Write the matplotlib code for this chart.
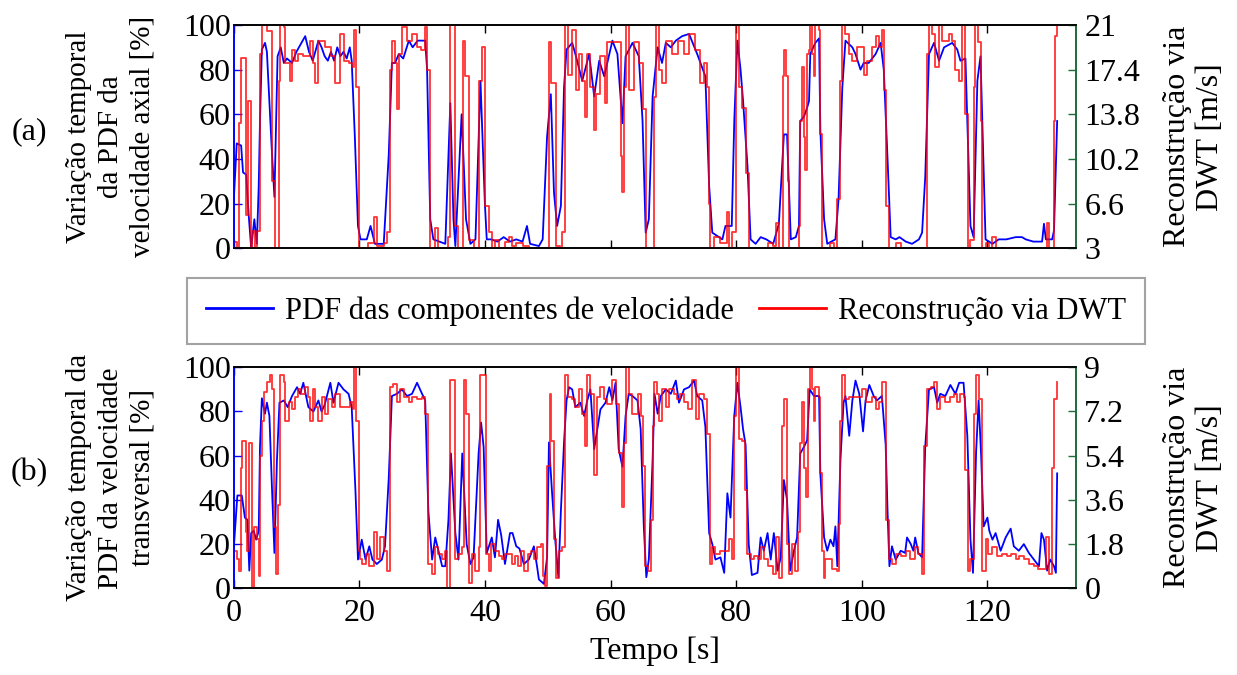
import matplotlib
matplotlib.use('Agg')
import matplotlib.pyplot as plt
from matplotlib.lines import Line2D
import numpy as np

plt.rcParams['font.family'] = ['Liberation Serif', 'DejaVu Serif']
plt.rcParams['font.size'] = 23

# (tempo [s], PDF [%]) - velocidade axial
top_pdf = [(0.0,20),(0.5,47),(1.2,46),(1.5,34),(2.0,33),(2.4,15),(2.8,0),(3.3,13),(3.7,2),(4.0,28),(4.2,57),(4.5,89),(5.0,92),(5.3,88),
           (6.1,43),(6.5,23),(7.0,86),(7.5,90),(8.0,83),(8.5,85),(9.3,83),(10.0,88),(10.8,92),(11.4,95),(12.0,88),(12.6,84),(13.0,88),
           (13.5,93),(14.0,90),(14.5,86),(15.0,84),(15.5,88),(16.0,84),(16.5,90),(17.0,86),(17.5,88),(18.0,85),(18.5,90),(18.8,84),
           (19.3,50),(19.8,10),(20.2,4),(21.2,4),(21.8,10),(22.5,2),(23.9,2),(24.7,42),(25.2,83),(25.7,83),(26.3,87),(27.0,85),(27.9,93),
           (28.5,90),(29.3,93),(30.5,93),(30.8,80),(31.3,13),(31.8,4),(33.7,2),(34.5,65),(35.0,13),(35.3,1),(36.3,60),(37.0,13),(37.7,2),
           (38.5,4),(39.3,75),(40.0,20),(40.3,4),(41.0,4),(42.0,3),(43.0,5),(44.0,3),(45.0,4),(46.0,3),(46.7,10),(47.2,2),(48.6,1),
           (49.2,4),(49.9,50),(50.5,69),(51.0,25),(51.5,10),(52.1,19),(52.6,72),(53.0,89),(53.9,92),(54.5,86),(55.5,75),(56.6,87),
           (57.4,68),(58.2,84),(59.0,77),(60.3,93),(61.1,87),(61.9,56),(62.4,86),(63.5,92),(64.5,86),(65.1,57),(65.6,7),(66.1,13),
           (66.7,68),(67.5,90),(68.2,83),(68.8,92),(69.6,90),(70.4,93),(71.4,95),(72.5,96),(73.8,87),(75.1,77),(75.7,28),(76.2,7),
           (77.8,4),(78.3,10),(79.3,10),(79.7,57),(80.2,93),(80.7,80),(81.1,66),(81.8,37),(82.3,4),(83.1,2),(83.9,5),(84.8,4),(85.9,2),
           (86.8,11),(87.6,51),(88.1,51),(88.7,4),(89.5,5),(90.0,10),(90.2,57),(90.8,59),(91.3,63),(91.6,66),(91.8,87),(92.6,92),
           (93.2,94),(93.4,53),(94.0,13),(94.5,2),(95.8,4),(96.3,22),(96.9,72),(97.4,93),(98.5,90),(99.0,87),(99.8,80),(100.3,83),
           (101.1,83),(102.2,87),(103.0,92),(103.5,80),(104.1,40),(104.6,5),(105.4,4),(106.0,5),(107.0,3),(108.0,2),(109.1,4),(109.6,7),
           (110.1,32),(110.7,87),(111.5,92),(112.3,84),(113.1,90),(114.4,92),(115.2,89),(115.7,84),(116.5,85),(116.8,57),(117.3,10),
           (117.8,5),(118.4,75),(118.9,86),(119.7,4),(120.8,2),(121.8,4),(123.0,4),(124.5,5),(125.5,5),(126.1,4),(127.3,3),(128.7,3),
           (129.0,11),(129.3,4),(130.3,4),(130.6,8),(131.1,57)]

# (tempo [s], velocidade [m/s]) - reconstrucao DWT, axial
top_dwt = [(0.0,3.5),(0.6,2.5),(0.9,13.1),(1.2,18.3),(1.6,18.3),(1.9,5.7),(2.3,14.9),(2.6,14.9),(2.8,2.5),(3.0,4.4),(3.4,2.5),(3.8,4.4),
           (4.2,18.7),(4.6,21.9),(5.0,21.0),(5.3,20.5),(5.8,20.5),(6.1,8.4),(6.6,2.5),(6.9,2.5),(7.2,16.5),(7.4,21.9),(8.0,20.8),(8.2,17.9),
           (9.0,16.5),(9.3,19.0),(9.8,18.1),(10.3,18.7),(11.1,18.5),(12.2,19.7),(12.7,17.9),(13.0,16.3),(13.5,19.7),(14.5,19.2),(15.5,18.5),
           (16.2,16.3),(17.0,20.3),(17.5,18.1),(18.3,17.9),(18.8,17.6),(19.1,20.6),(19.5,16.0),(19.9,3.0),(20.5,3.0),(21.4,3.4),(22.3,5.5),
           (22.8,3.2),(24.0,3.4),(24.4,4.3),(24.9,17.4),(25.2,19.7),(25.7,17.9),(26.0,14.2),(26.3,18.7),(26.8,20.8),(27.6,19.7),(28.4,20.3),
           (29.2,19.2),(29.9,19.0),(30.5,20.8),(30.8,17.4),(31.3,3.0),(31.8,2.5),(32.1,4.6),(32.6,2.5),(33.7,3.0),(34.2,3.9),(34.5,21.9),
           (35.0,21.9),(35.3,4.8),(35.8,2.5),(36.5,19.7),(36.9,16.9),(37.4,3.7),(38.2,2.5),(39.0,16.5),(39.5,19.2),(40.0,6.4),(40.6,4.3),
           (41.1,2.5),(41.6,3.7),(42.2,2.5),(43.2,3.5),(43.8,3.9),(44.3,3.2),(45.0,3.4),(46.0,3.2),(47.0,2.5),(49.5,2.5),(50.2,19.6),
           (50.6,16.3),(51.3,3.2),(51.9,2.5),(52.3,4.3),(52.7,21.9),(53.2,17.0),(53.9,20.6),(54.5,15.8),(55.0,18.7),(55.5,16.5),(55.9,13.6),
           (56.3,18.7),(56.8,16.0),(57.3,12.5),(57.7,15.4),(58.3,18.5),(59.2,14.7),(59.5,19.6),(60.8,19.6),(61.6,10.4),(61.9,7.5),(62.2,16.0),
           (62.5,21.9),(63.0,15.8),(63.7,19.6),(64.5,17.9),(65.1,14.2),(65.6,2.5),(66.3,2.5),(66.9,15.2),(67.2,21.0),(67.7,17.4),(68.2,16.3),
           (68.8,19.7),(69.8,18.7),(70.8,19.7),(71.7,18.7),(72.5,20.3),(73.5,19.0),(74.3,16.3),(74.9,17.9),(75.4,16.0),(75.7,6.6),(75.9,2.5),
           (76.4,3.9),(77.5,3.4),(78.6,5.9),(78.9,2.5),(79.4,4.3),(79.9,21.9),(80.5,16.0),(81.0,14.3),(81.5,9.1),(82.1,2.5),(83.0,2.8),
           (84.0,2.5),(85.0,3.4),(85.8,3.2),(86.3,5.0),(86.8,2.5),(87.4,16.9),(87.6,19.0),(88.0,16.9),(88.2,8.4),(88.4,2.5),(89.4,2.8),
           (90.0,4.8),(90.2,13.3),(90.5,17.6),(90.8,12.0),(91.0,9.3),(91.3,18.7),(91.6,19.0),(91.8,21.0),(92.1,18.7),(92.4,16.9),(92.6,21.0),
           (93.2,20.6),(93.4,12.2),(93.7,2.5),(95.0,3.4),(95.5,2.5),(96.1,7.0),(96.6,16.5),(96.9,21.0),(97.4,20.3),(98.0,18.7),(98.5,18.1),
           (99.3,19.2),(100.3,17.0),(100.8,18.1),(101.6,19.2),(102.2,20.1),(102.7,19.2),(103.2,20.6),(103.5,15.8),(103.8,6.4),(104.3,2.5),
           (105.4,3.4),(106.2,2.5),(107.0,2.8),(108.0,2.5),(109.0,2.8),(109.9,2.5),(110.4,18.7),(110.7,21.0),(111.2,20.3),(111.7,17.6),
           (112.3,21.0),(112.8,19.7),(113.9,20.3),(114.4,19.7),(114.9,17.4),(115.5,16.5),(116.0,21.0),(116.5,13.8),(116.9,2.5),(117.3,3.7),
           (117.8,16.0),(118.1,21.0),(118.5,19.6),(118.9,13.3),(119.2,2.5),(119.7,3.4),(120.2,2.5),(120.8,3.9),(121.4,2.5),(122.9,3.0),
           (124.0,2.5),(125.0,2.8),(126.1,2.5),(127.2,2.8),(128.2,2.5),(129.0,2.8),(129.5,5.0),(129.8,2.5),(130.3,2.5),(130.6,13.3),
           (130.8,20.1),(131.1,21.9)]

# (tempo [s], PDF [%]) - velocidade transversal
bot_pdf = [(0.0,17),(0.6,42),(1.3,42),(1.8,32),(2.2,31),(2.5,8),(2.8,25),(3.2,26),(3.6,22),(4.0,26),(4.2,64),(4.5,86),(5.0,79),(5.3,84),
           (5.7,78),(6.1,46),(6.5,16),(6.9,58),(7.3,84),(8.0,85),(8.6,82),(9.3,87),(10.1,91),(10.6,88),(11.1,93),(11.9,82),(12.7,80),
           (13.5,85),(14.0,80),(14.5,83),(15.4,93),(15.9,84),(16.7,93),(17.5,90),(18.3,88),(18.8,82),(19.4,44),(19.8,13),(20.4,22),
           (21.0,13),(21.6,19),(22.1,13),(22.8,11),(23.6,13),(24.1,19),(24.7,50),(25.2,87),(26.0,88),(26.8,90),(27.6,87),(28.4,88),
           (29.2,93),(30.0,88),(30.5,85),(31.0,35),(31.6,13),(32.1,23),(32.6,17),(33.2,10),(33.7,10),(34.2,31),(34.6,61),(35.3,25),
           (35.8,13),(36.4,61),(37.1,20),(37.7,11),(38.2,14),(39.0,61),(39.4,75),(39.8,64),(40.3,16),(41.1,23),(41.6,14),(42.1,31),
           (42.6,24),(43.2,11),(44.0,25),(44.4,25),(45.0,19),(45.5,18),(46.2,11),(47.0,13),(47.8,19),(48.3,10),(48.6,4),(49.4,2),
           (49.9,14),(50.2,66),(50.7,43),(51.2,22),(51.7,5),(52.1,35),(52.6,66),(53.0,85),(53.4,91),(53.9,90),(54.4,82),(55.2,84),
           (55.8,78),(56.3,85),(56.8,90),(57.4,63),(57.9,72),(58.4,81),(59.2,84),(59.8,91),(60.3,85),(60.8,93),(61.3,63),(61.9,55),
           (62.4,78),(62.9,88),(63.5,87),(64.3,85),(64.8,72),(65.3,28),(65.7,5),(66.1,13),(66.7,58),(67.0,88),(67.5,79),(68.0,87),
           (68.8,90),(69.6,88),(70.4,94),(70.9,84),(71.7,90),(72.5,91),(73.3,94),(73.8,87),(74.6,85),(75.1,73),(75.7,25),(76.2,20),
           (76.7,13),(77.5,14),(78.1,7),(78.6,43),(79.1,32),(79.7,78),(80.2,93),(80.7,82),(81.1,72),(81.5,65),(82.0,20),(82.5,6),
           (83.4,7),(83.9,23),(84.4,17),(85.0,25),(85.5,13),(86.0,25),(86.6,8),(87.1,14),(87.6,49),(88.1,40),(88.6,8),(89.2,17),
           (89.7,23),(90.2,61),(90.8,64),(91.3,67),(91.7,90),(92.4,87),(93.2,87),(93.4,52),(94.0,23),(94.5,17),(95.0,22),(95.5,19),
           (95.8,28),(96.1,10),(96.6,58),(97.1,84),(97.4,87),(98.0,69),(98.5,85),(99.0,94),(99.6,88),(100.2,71),(100.6,85),(101.2,92),
           (101.9,87),(102.4,85),(103.2,87),(103.8,65),(104.1,35),(104.4,10),(104.8,19),(105.4,13),(106.2,17),(106.9,16),(107.2,23),
           (107.8,20),(108.2,17),(108.5,23),(109.0,16),(109.6,14),(110.1,64),(110.7,90),(111.5,91),(112.0,84),(112.5,88),(113.3,87),
           (114.1,92),(114.9,88),(115.5,93),(116.2,93),(116.8,69),(117.3,22),(117.7,7),(118.2,62),(118.6,85),(119.0,60),(119.4,28),
           (120.0,32),(120.3,26),(120.8,22),(121.3,25),(122.1,17),(122.9,23),(123.7,27),(124.2,19),(125.0,17),(125.8,20),(126.6,16),
           (127.4,13),(128.2,10),(128.6,25),(129.0,22),(129.5,8),(130.0,13),(130.6,10),(130.9,7),(131.1,52)]

# (tempo [s], velocidade [m/s]) - reconstrucao DWT, transversal
bot_dwt = [(0.0,1.5),(0.5,1.2),(0.8,0.7),(1.1,4.9),(1.3,6.0),(1.7,6.0),(1.9,2.3),(2.1,1.5),(2.4,5.9),(2.7,5.9),(2.9,-0.3),(3.2,2.5),
           (3.7,2.0),(4.0,0.5),(4.2,5.4),(4.5,6.8),(4.9,8.0),(5.3,8.4),(5.8,8.7),(6.1,8.1),(6.5,2.5),(6.7,0.6),(7.1,3.4),(7.4,8.7),
           (8.0,8.4),(8.2,6.8),(8.8,7.6),(9.3,7.3),(9.8,7.8),(10.3,8.1),(10.8,7.9),(11.4,8.2),(11.9,7.8),(12.2,6.8),(12.7,8.1),(13.0,7.4),
           (13.5,6.8),(14.0,7.8),(14.5,7.1),(15.1,7.7),(15.6,7.4),(16.2,7.9),(17.0,7.4),(17.8,7.4),(18.6,7.6),(19.0,7.3),(19.2,9.0),
           (19.5,6.8),(19.9,1.5),(20.2,1.2),(20.4,1.0),(21.0,1.4),(21.5,0.9),(22.3,2.3),(22.8,1.2),(23.3,2.1),(23.9,1.5),(24.4,0.7),
           (24.9,8.2),(25.4,8.3),(26.0,7.6),(26.5,8.1),(27.1,7.8),(27.9,7.6),(28.4,7.8),(29.2,7.7),(30.0,7.8),(30.5,7.1),(31.0,1.0),
           (31.6,0.6),(32.1,1.7),(32.6,1.4),(33.2,1.2),(33.7,1.5),(34.0,-0.3),(34.5,8.5),(35.0,8.5),(35.3,1.2),(35.8,1.4),(36.3,1.7),
           (36.7,8.5),(37.0,7.1),(37.4,0.2),(37.9,1.4),(38.5,0.7),(39.0,1.7),(39.3,8.7),(39.7,8.7),(40.1,1.4),(40.6,0.7),(40.9,1.8),
           (41.6,1.5),(42.2,1.3),(42.7,1.2),(43.2,1.4),(43.8,1.4),(44.3,1.0),(44.8,1.3),(45.2,0.9),(45.8,1.5),(46.3,0.7),(46.8,1.4),
           (47.3,1.5),(47.8,1.2),(48.3,1.7),(48.9,1.8),(49.2,0.5),(49.6,0.1),(49.9,5.0),(50.3,7.9),(50.6,6.0),(51.0,2.0),(51.3,0.4),
           (51.8,1.5),(52.3,1.7),(52.7,8.7),(53.3,7.8),(53.9,7.7),(54.4,7.4),(55.0,8.1),(55.5,7.1),(55.9,5.8),(56.3,8.7),(56.8,7.9),
           (57.4,4.6),(57.9,7.8),(58.4,8.2),(59.0,7.7),(59.5,7.5),(60.3,8.5),(60.8,7.5),(61.3,5.5),(61.8,3.3),(62.1,5.9),(62.5,9.0),
           (62.9,7.9),(63.5,7.1),(64.3,7.9),(64.8,7.0),(65.1,5.0),(65.5,0.9),(65.9,0.7),(66.4,2.8),(66.7,6.6),(67.0,8.4),(67.4,7.9),
           (67.7,6.8),(68.2,8.1),(68.8,7.4),(69.3,8.1),(70.1,7.9),(70.6,7.7),(71.1,7.9),(71.7,7.6),(72.4,7.3),(73.0,8.5),(73.6,6.9),
           (74.1,7.9),(74.9,7.7),(75.4,6.3),(75.8,1.0),(76.2,1.7),(76.7,1.4),(77.5,1.5),(78.3,1.5),(78.8,2.0),(79.3,1.2),(79.7,7.0),
           (80.0,9.0),(80.5,6.1),(81.0,6.0),(81.4,4.0),(81.8,1.4),(82.3,1.2),(82.9,1.3),(83.4,1.2),(83.9,1.7),(84.4,1.2),(85.0,0.9),
           (85.8,0.6),(86.3,2.1),(86.8,0.4),(87.3,6.6),(87.6,7.7),(88.1,1.8),(88.4,0.6),(88.9,1.8),(89.4,0.7),(89.9,2.3),(90.2,5.9),
           (90.5,7.6),(90.8,4.9),(91.1,3.7),(91.4,8.1),(91.7,9.0),(92.1,8.1),(92.4,6.8),(92.6,8.2),(93.2,7.8),(93.4,4.7),(93.7,1.5),
           (94.0,0.4),(94.2,1.2),(94.8,1.2),(95.3,0.8),(96.1,0.7),(96.3,2.6),(96.6,6.8),(96.9,8.7),(97.4,7.7),(98.0,7.8),(98.5,7.8),
           (99.3,7.8),(100.1,8.1),(100.7,7.6),(101.6,7.8),(102.2,7.3),(102.7,7.6),(103.2,8.4),(103.8,2.8),(104.3,1.2),(104.8,1.0),
           (105.4,1.4),(106.2,1.3),(107.0,1.5),(107.7,1.2),(108.5,1.7),(109.0,1.4),(109.6,0.6),(109.9,5.8),(110.4,8.1),(111.0,8.2),
           (111.5,8.4),(112.0,7.3),(112.5,7.8),(113.3,7.6),(114.1,7.8),(114.6,7.9),(115.2,7.6),(115.7,7.9),(116.2,7.8),(116.5,4.8),
           (116.9,0.7),(117.3,1.2),(117.8,7.1),(118.2,8.7),(118.6,7.7),(119.2,0.7),(119.7,2.0),(120.1,1.4),(120.8,1.7),(121.6,1.3),
           (122.3,1.4),(123.1,1.3),(123.8,1.4),(124.5,1.2),(125.1,1.3),(125.8,1.2),(126.6,1.0),(127.4,0.9),(128.0,0.8),(128.7,0.8),
           (129.3,2.1),(129.8,0.6),(130.3,4.9),(130.6,7.7),(131.1,8.4)]

pdf_ticks = [0, 20, 40, 60, 80, 100]
top_dwt_ticks = [3, 6.6, 10.2, 13.8, 17.4, 21]
bot_dwt_ticks = [0, 1.8, 3.6, 5.4, 7.2, 9]
x_ticks = [0, 20, 40, 60, 80, 100, 120]

left_labels = ['Variação temporal\nda PDF da\nvelocidade axial [%]',
               'Variação temporal da\nPDF da velocidade\ntransversal [%]']
right_label = 'Reconstrução via\nDWT [m/s]'
panel_tags = ['(a)', '(b)']
legend_labels = ['PDF das componentes de velocidade', 'Reconstrução via DWT']

W, H = 1237, 675
FS = 23
verde = '#1f6b3a'

fig = plt.figure(figsize=(W / 100, H / 100), dpi=100)


def painel(rect, pdf, dwt, dwt_ticks, tag, ylab, show_x):
    ax = fig.add_axes(rect)
    ax2 = ax.twinx()
    t1, v1 = np.array(pdf).T
    t2, v2 = np.array(dwt).T
    ax.plot(t1, v1, color='blue', lw=1.3)
    ax2.plot(t2, v2, color='red', lw=1.3, alpha=0.8, drawstyle='steps-post')

    ax.set_xlim(0, 134.1)
    ax.set_ylim(0, 100)
    ax.set_yticks(pdf_ticks)
    ax.set_xticks(x_ticks)
    ax2.set_ylim(dwt_ticks[0], dwt_ticks[-1])
    ax2.set_yticks(dwt_ticks)
    ax2.set_yticklabels(['%g' % v for v in dwt_ticks])
    if not show_x:
        ax.set_xticklabels([])

    ax.tick_params(axis='x', direction='in', top=True, length=6, width=1, pad=8, labelsize=FS)
    ax.tick_params(axis='y', direction='in', color='blue', length=6, width=1, pad=2, labelsize=FS)
    ax2.tick_params(axis='y', direction='in', color=verde, length=6, width=1, pad=6, labelsize=FS)

    for a in (ax, ax2):
        a.spines['left'].set_color('blue')
        a.spines['right'].set_color(verde)
        a.spines['top'].set_color('black')
        a.spines['bottom'].set_color('black')
        for s in a.spines.values():
            s.set_linewidth(1.2)

    # rotulos
    yc = rect[1] + rect[3] / 2
    fig.text(111 / W, yc, ylab, rotation=90, ha='center', va='center',
             multialignment='center', fontsize=21, linespacing=1.3)
    fig.text(29 / W, yc + 5 / H, tag, ha='center', va='center', fontsize=FS)
    fig.text(1194 / W, yc, right_label, rotation=90, ha='center', va='center',
             multialignment='center', fontsize=FS, linespacing=1.15)
    return ax


ax_top = painel([233.6 / W, 1 - 248.3 / H, 842.4 / W, 223.3 / H], top_pdf, top_dwt,
                top_dwt_ticks, panel_tags[0], left_labels[0], False)
ax_bot = painel([233.6 / W, 1 - 588.3 / H, 842.4 / W, 221.0 / H], bot_pdf, bot_dwt,
                bot_dwt_ticks, panel_tags[1], left_labels[1], True)
ax_bot.set_xlabel('Tempo [s]', fontsize=FS, labelpad=6)

handles = [Line2D([], [], color='blue', lw=2), Line2D([], [], color='red', lw=2)]
leg = fig.legend(handles, legend_labels, loc='center', bbox_to_anchor=(666 / W, 1 - 311 / H),
                 ncol=2, fontsize=22, frameon=True, fancybox=False, edgecolor='#8c8c8c',
                 handlelength=2.2, handletextpad=0.4, columnspacing=0.8, borderpad=0.6)
leg.get_frame().set_linewidth(1.5)

fig.savefig('out.png', dpi=100)
